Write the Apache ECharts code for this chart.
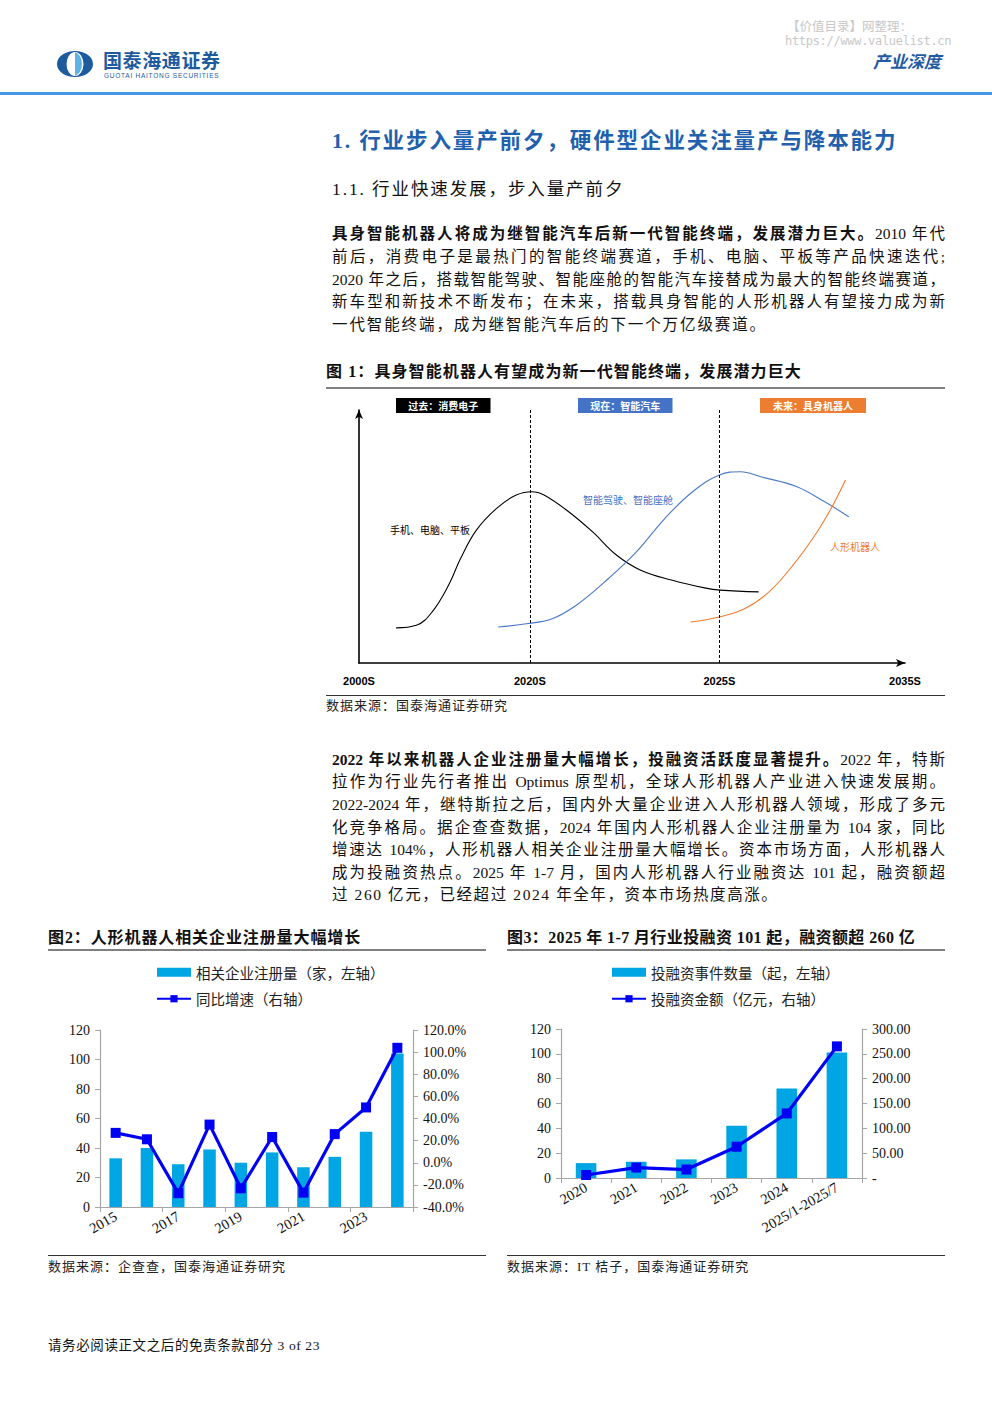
<!DOCTYPE html>
<html><head><meta charset="utf-8">
<script src="https://cdn.jsdelivr.net/npm/echarts@6/dist/echarts.min.js"></script>
<style>
html,body{margin:0;padding:0;background:#fff;}
body{width:992px;height:1403px;position:relative;overflow:hidden;font-family:"Liberation Serif","Noto Sans CJK SC",serif;color:#111;}
.abs{position:absolute;white-space:nowrap;}
.pl{position:absolute;left:332px;width:613px;font-size:15.5px;line-height:22px;height:22px;text-align:justify;text-align-last:justify;overflow:visible;}
.pl.last{text-align-last:left;}
.pl b{font-weight:bold;}
.rule{position:absolute;height:0;}
.src{position:absolute;font-size:13px;line-height:18px;color:#222;white-space:nowrap;}
.ftitle{position:absolute;font-weight:bold;font-size:16px;line-height:20px;white-space:nowrap;color:#111;}
.chart{position:absolute;}
</style></head>
<body>
<!-- header -->
<div class="abs" style="left:787px;top:16px;font-size:12.5px;color:#c8c8c8;font-family:'Noto Sans CJK SC';">【价值目录】网整理：</div>
<div class="abs" style="left:785px;top:34px;font-size:12px;color:#c8c8c8;font-family:'DejaVu Sans Mono';letter-spacing:-0.3px;">https://www.valuelist.cn</div>
<div class="abs" style="left:873px;top:48px;font-size:17px;font-weight:bold;color:#1f5aa3;font-family:'Noto Sans CJK SC';font-style:italic;">产业深度</div>
<svg class="abs" style="left:56px;top:50px;" width="40" height="28" viewBox="0 0 40 28">
  <ellipse cx="19" cy="14" rx="18" ry="13" fill="#1d5a9e"/>
  <ellipse cx="19" cy="14" rx="8.5" ry="12" fill="#ffffff"/>
  <path d="M19 2.2 A8.5 12 0 0 1 19 25.8 Z" fill="#5db3e6"/>
</svg>
<div class="abs" style="left:103px;top:50px;font-size:19px;font-weight:bold;color:#1d5a9e;font-family:'Noto Sans CJK SC';letter-spacing:0.6px;line-height:20px;height:20px;">国泰海通证券</div>
<div class="abs" style="left:104px;top:72px;font-size:6.5px;color:#1d5a9e;font-family:'Liberation Sans';letter-spacing:0.75px;line-height:7px;height:7px;">GUOTAI HAITONG SECURITIES</div>
<div class="abs" style="left:0;top:92px;width:992px;height:3px;background:#4595e8;"></div>

<!-- headings -->
<div class="abs" style="left:332px;top:127px;font-size:21.5px;line-height:28px;font-weight:bold;color:#2160ad;letter-spacing:1.9px;">1. 行业步入量产前夕，硬件型企业关注量产与降本能力</div>
<div class="abs" style="left:332px;top:177px;font-size:17.5px;line-height:24px;color:#111;letter-spacing:1.9px;">1.1. 行业快速发展，步入量产前夕</div>

<!-- paragraph 1 -->
<div class="pl" style="top:223px;"><b>具身智能机器人将成为继智能汽车后新一代智能终端，发展潜力巨大。</b>2010 年代</div>
<div class="pl" style="top:246px;">前后，消费电子是最热门的智能终端赛道，手机、电脑、平板等产品快速迭代;</div>
<div class="pl" style="top:269px;">2020 年之后，搭载智能驾驶、智能座舱的智能汽车接替成为最大的智能终端赛道，</div>
<div class="pl" style="top:291px;">新车型和新技术不断发布；在未来，搭载具身智能的人形机器人有望接力成为新</div>
<div class="pl last" style="top:314px;letter-spacing:1.9px;">一代智能终端，成为继智能汽车后的下一个万亿级赛道。</div>

<!-- figure 1 -->
<div class="ftitle" style="left:326px;top:362px;letter-spacing:1.1px;">图 1：具身智能机器人有望成为新一代智能终端，发展潜力巨大</div>
<div class="rule" style="left:326px;top:387px;width:619px;border-top:2px solid #808080;"></div>
<div id="fig1" class="chart" style="left:326px;top:390px;width:619px;height:305px;"></div>
<div class="rule" style="left:326px;top:695px;width:619px;border-top:1.5px solid #333;"></div>
<div class="src" style="left:326px;top:697px;letter-spacing:1px;">数据来源：国泰海通证券研究</div>

<!-- paragraph 2 -->
<div class="pl" style="top:749px;"><b>2022 年以来机器人企业注册量大幅增长，投融资活跃度显著提升。</b>2022 年，特斯</div>
<div class="pl" style="top:771px;">拉作为行业先行者推出 Optimus 原型机，全球人形机器人产业进入快速发展期。</div>
<div class="pl" style="top:794px;">2022-2024 年，继特斯拉之后，国内外大量企业进入人形机器人领域，形成了多元</div>
<div class="pl" style="top:817px;">化竞争格局。据企查查数据，2024 年国内人形机器人企业注册量为 104 家，同比</div>
<div class="pl" style="top:839px;">增速达 104%，人形机器人相关企业注册量大幅增长。资本市场方面，人形机器人</div>
<div class="pl" style="top:862px;">成为投融资热点。2025 年 1-7 月，国内人形机器人行业融资达 101 起，融资额超</div>
<div class="pl last" style="top:884px;letter-spacing:1.6px;">过 260 亿元，已经超过 2024 年全年，资本市场热度高涨。</div>

<!-- figure 2 -->
<div class="ftitle" style="left:48px;top:928px;letter-spacing:0.9px;">图2：人形机器人相关企业注册量大幅增长</div>
<div class="rule" style="left:48px;top:949px;width:438px;border-top:2px solid #808080;"></div>
<div id="fig2" class="chart" style="left:48px;top:952px;width:438px;height:303px;"></div>
<div class="rule" style="left:48px;top:1255px;width:438px;border-top:1.5px solid #333;"></div>
<div class="src" style="left:48px;top:1258px;letter-spacing:1px;">数据来源：企查查，国泰海通证券研究</div>

<!-- figure 3 -->
<div class="ftitle" style="left:507px;top:928px;letter-spacing:0.4px;">图3：2025 年 1-7 月行业投融资 101 起，融资额超 260 亿</div>
<div class="rule" style="left:507px;top:949px;width:438px;border-top:2px solid #808080;"></div>
<div id="fig3" class="chart" style="left:507px;top:952px;width:438px;height:303px;"></div>
<div class="rule" style="left:507px;top:1255px;width:438px;border-top:1.5px solid #333;"></div>
<div class="src" style="left:507px;top:1258px;letter-spacing:1px;">数据来源：IT 桔子，国泰海通证券研究</div>

<!-- footer -->
<div class="src" style="left:48px;top:1337px;font-size:13.5px;letter-spacing:0.6px;color:#111;">请务必阅读正文之后的免责条款部分 3 of 23</div>

<script>
// ---------- Figure 1 data ----------
const eraTicks = [0, 31.3, 66, 100];
const eraNames = ['2000S', '2020S', '2025S', '2035S'];
const consumerCurve = [[6.8,13.9],[10.5,14.9],[13.4,20.2],[16.4,30.7],[18.6,41.3],[21.5,52.5],[25.2,61.1],[28.8,66.4],[31.8,67.7],[33.9,66.4],[38.4,59.8],[42.8,51.8],[47.2,42.6],[51.6,36.7],[57.4,32.7],[63.3,29.7],[66.2,28.8],[73.2,28.1]];
const carCurve = [[25.5,14.2],[31,15.6],[35.4,17.5],[39.8,22.8],[45.7,33.4],[50.8,43.9],[56,57.1],[61.1,67.7],[66,74.3],[69.9,75.6],[73.6,73.6],[80.2,69.7],[85.3,63.7],[89.7,57.8]];
const robotCurve = [[60.7,16.2],[66,18.2],[70.7,21.5],[75.1,28.1],[79.5,38.7],[83.9,51.8],[86.8,62.4],[89.1,72.3]];
const eraBoxTexts = ['过去：消费电子', '现在：智能汽车', '未来：具身机器人'];
const curveNames = ['手机、电脑、平板', '智能驾驶、智能座舱', '人形机器人'];

// ---------- Figure 2 data ----------
const regYears = ['2015','2016','2017','2018','2019','2020','2021','2022','2023','2024'];
const regCounts = [33, 40, 29, 39, 30, 37, 27, 34, 51, 104];
const regGrowth = [27.0, 21.2, -27.5, 34.5, -23.1, 23.3, -27.0, 25.9, 50.0, 103.9];
const regNames = ['相关企业注册量（家，左轴）', '同比增速（右轴）'];

// ---------- Figure 3 data ----------
const finPeriods = ['2020','2021','2022','2023','2024','2025/1-2025/7'];
const finEvents = [12, 13, 15, 42, 72, 101];
const finAmount = [6, 21, 17, 63, 130, 265];
const finNames = ['投融资事件数量（起，左轴）', '投融资金额（亿元，右轴）'];

const CJK = '"Noto Sans CJK SC"';
const SERIF = '"Liberation Serif"';
const BAR = '#00a6e3';
const LINE = '#0000f5';
const AX = '#a6a6a6';

// Figure 1
const f1 = echarts.init(document.getElementById('fig1'), null, {renderer: 'svg'});
function boxEl(x, text, color) {
  return {type:'rect', left:x, top:8, shape:{width:text.length*11.5+14, height:15}, style:{fill:color},
    textContent:{style:{text:text, fill:'#fff', font:'bold 10px ' + CJK}}, textConfig:{position:'inside'}};
}
f1.setOption({
  animation:false,
  grid:{left:33, right:40, top:20, bottom:32},
  xAxis:{type:'value', min:0, max:100, splitLine:{show:false}, axisTick:{show:false},
    axisLine:{show:true, symbol:['none','arrow'], symbolSize:[6,9], lineStyle:{color:'#000', width:1.6}},
    axisLabel:{customValues:eraTicks, formatter:v => eraNames[eraTicks.indexOf(v)], fontWeight:'bold', fontSize:11, color:'#000', fontFamily:'"Liberation Sans"', margin:12}},
  yAxis:{type:'value', min:0, max:100, splitLine:{show:false}, axisTick:{show:false}, axisLabel:{show:false},
    axisLine:{show:true, symbol:['none','arrow'], symbolSize:[6,9], lineStyle:{color:'#000', width:1.6}}},
  series:[
    {type:'line', data:consumerCurve, smooth:0.4, showSymbol:false, lineStyle:{color:'#000', width:1.1},
     markLine:{silent:true, symbol:'none', label:{show:false}, lineStyle:{color:'#000', type:[3,2], width:1}, data:[{xAxis:eraTicks[1]},{xAxis:eraTicks[2]}]}},
    {type:'line', data:carCurve, smooth:0.4, showSymbol:false, lineStyle:{color:'#4a78c8', width:1.1}},
    {type:'line', data:robotCurve, smooth:0.4, showSymbol:false, lineStyle:{color:'#ed7d31', width:1.1}}
  ],
  graphic:[
    boxEl(70, eraBoxTexts[0], '#000'),
    boxEl(252, eraBoxTexts[1], '#4472c4'),
    boxEl(434, eraBoxTexts[2], '#ed7d31'),
    {type:'text', left:64, top:134, style:{text:curveNames[0], fill:'#000', font:'10px ' + CJK}},
    {type:'text', left:257, top:104, style:{text:curveNames[1], fill:'#4472c4', font:'10px ' + CJK}},
    {type:'text', left:504, top:151, style:{text:curveNames[2], fill:'#ed7d31', font:'10px ' + CJK}}
  ]
});

function comboOption(cfg) {
  return {
    animation:false,
    legend:{orient:'vertical', left:cfg.legendLeft, top:8, itemGap:12, itemWidth:34, itemHeight:9,
      textStyle:{fontFamily:CJK, fontSize:14.5, color:'#222'},
      data:[{name:cfg.names[0], icon:'rect'}, {name:cfg.names[1]}]},
    grid:cfg.grid,
    xAxis:{type:'category', data:cfg.cats, boundaryGap:true,
      axisLine:{lineStyle:{color:AX, width:1.2}},
      axisTick:{show:true, length:5, lineStyle:{color:AX}},
      axisLabel:{interval:cfg.labelInterval, rotate:30, fontFamily:SERIF, fontSize:14.5, color:'#111', margin:8}},
    yAxis:[
      {type:'value', min:0, max:120, interval:20, splitLine:{show:false},
        axisLine:{show:true, lineStyle:{color:AX, width:1.2}}, axisTick:{show:true, length:5, lineStyle:{color:AX}},
        axisLabel:{fontFamily:SERIF, fontSize:14, color:'#111', margin:10}},
      {type:'value', min:cfg.rMin, max:cfg.rMax, interval:cfg.rInt, splitLine:{show:false}, position:'right',
        axisLine:{show:true, lineStyle:{color:AX, width:1.2}}, axisTick:{show:true, length:5, lineStyle:{color:AX}},
        axisLabel:{fontFamily:SERIF, fontSize:14, color:'#111', margin:10, formatter:cfg.rFmt}}
    ],
    series:[
      {name:cfg.names[0], type:'bar', data:cfg.bars, barWidth:cfg.barWidth, itemStyle:{color:BAR}},
      {name:cfg.names[1], type:'line', yAxisIndex:1, data:cfg.line, symbol:'rect', symbolSize:10,
        lineStyle:{color:LINE, width:3.2}, itemStyle:{color:LINE}}
    ]
  };
}

const f2 = echarts.init(document.getElementById('fig2'), null, {renderer: 'svg'});
f2.setOption(comboOption({
  names:regNames, cats:regYears, bars:regCounts, line:regGrowth, legendLeft:103,
  grid:{left:52, right:73, top:78, bottom:48}, labelInterval:1, barWidth:'40%',
  rMin:-40, rMax:120, rInt:20, rFmt:v => v.toFixed(1) + '%'
}));

const f3 = echarts.init(document.getElementById('fig3'), null, {renderer: 'svg'});
f3.setOption(comboOption({
  names:finNames, cats:finPeriods, bars:finEvents, line:finAmount, legendLeft:99,
  grid:{left:54, right:83, top:77, bottom:77}, labelInterval:0, barWidth:'41%',
  rMin:0, rMax:300, rInt:50, rFmt:v => v === 0 ? '-' : v.toFixed(2)
}));
</script>
</body></html>
